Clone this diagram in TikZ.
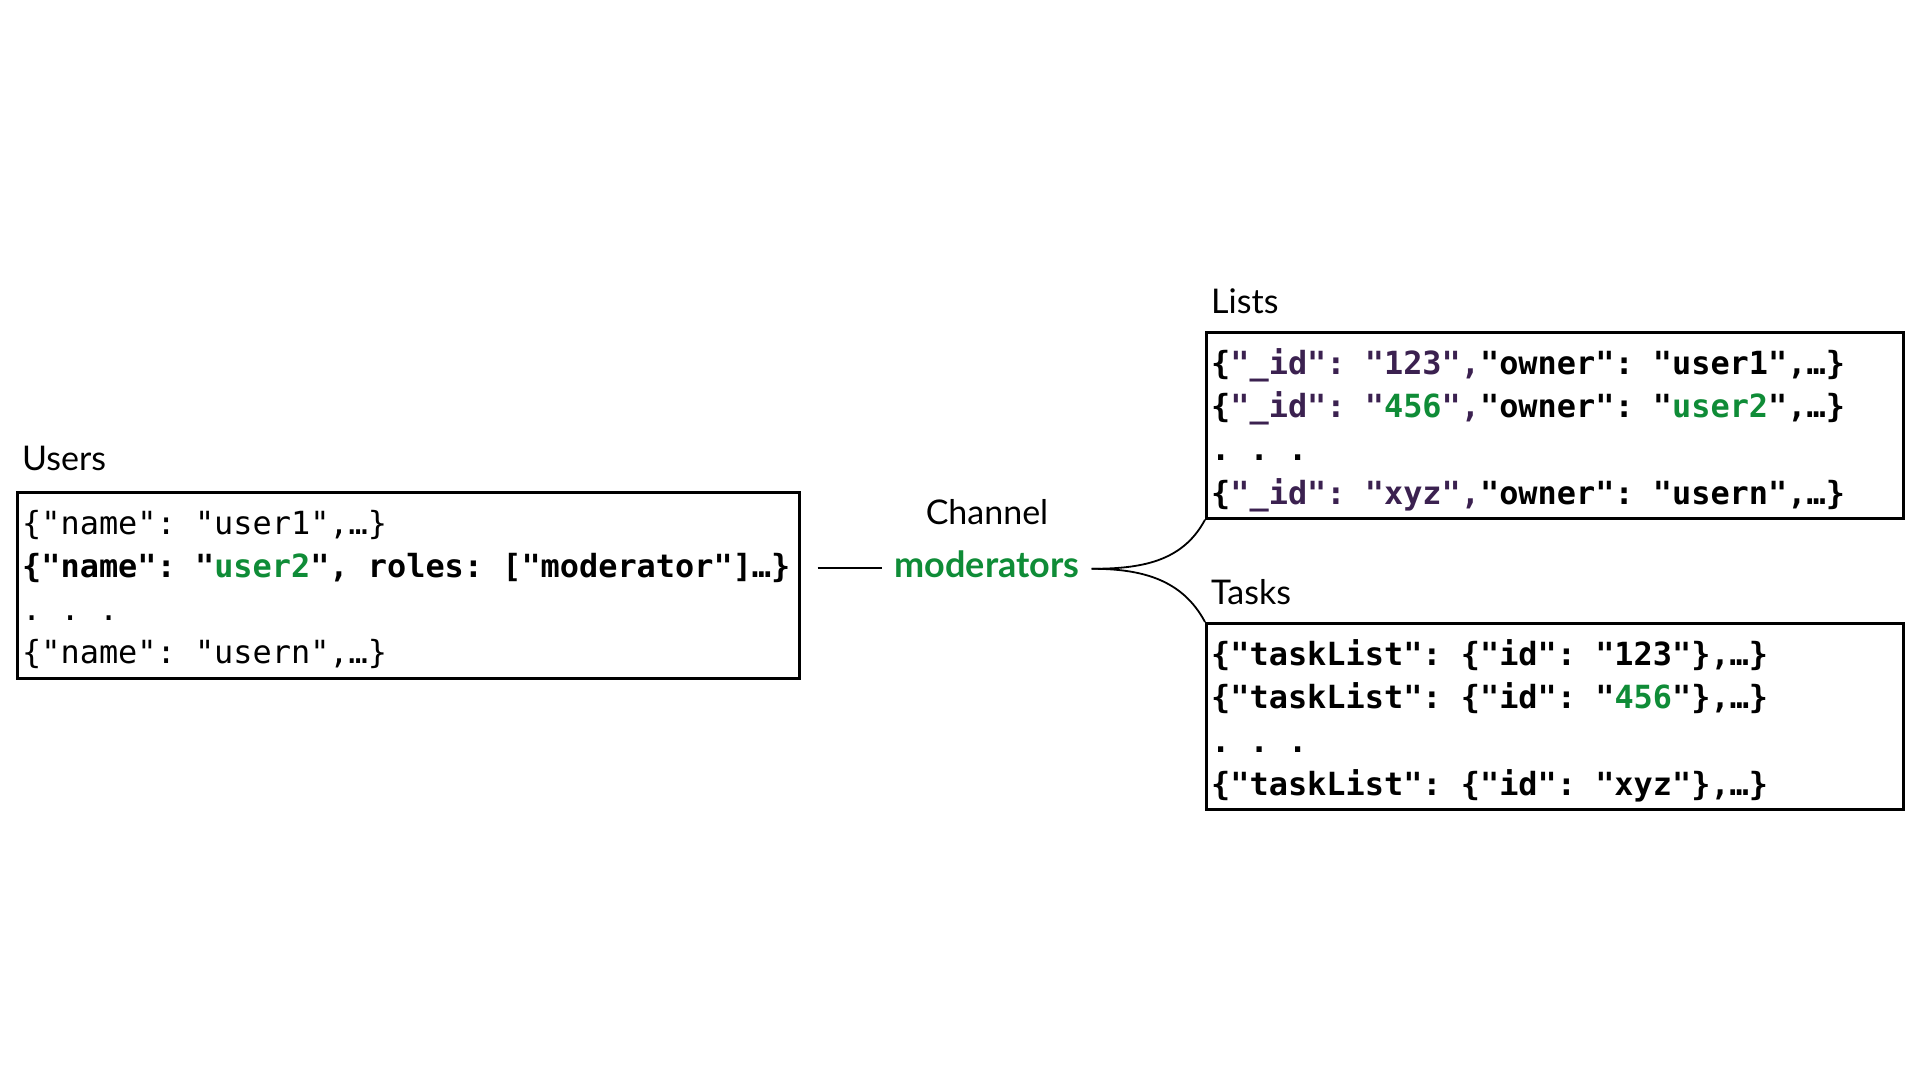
\documentclass[tikz,border=0pt]{standalone}
\usepackage{fontspec}
\setmainfont{Lato}
\newfontfamily\codefont{DejaVu Sans Mono}
\usetikzlibrary{calc}
\definecolor{grn}{HTML}{0F8C37}
\definecolor{prp}{HTML}{3B2150}
\tikzset{
  box/.style={draw=black, line width=2.7pt, rectangle, inner sep=0pt, anchor=north west,
              minimum width=#1, minimum height=186pt},
  coderow/.style={anchor=base west, inner sep=0pt, text=black,
              font=\codefont\fontsize{31.9}{38}\selectfont\frenchspacing},
  lbl/.style={inner sep=0pt, text=black, font=\fontsize{34}{40}\selectfont},
  modlbl/.style={inner sep=0pt, text=grn, font=\bfseries\fontsize{36}{42}\selectfont},
  conn/.style={draw=black, line width=1.8pt}
}
\begin{document}
\begin{tikzpicture}[x=1pt,y=-1pt]
\useasboundingbox (0,0) rectangle (1920,1080);
\fill[white] (0,0) rectangle (1920,1080);

% Users
\node[lbl, anchor=base west] (usersl) at (22,470) {Users};
\node[box=782pt] (users) at (16,491) {};
\node[coderow] (u1) at (22,534) {\{"name": "user1",…\}};
\node[coderow] (u2) at (22,577) {\textbf{\{"name": "\textcolor{grn}{user2}", roles: ["moderator"]…\}}};
\node[coderow] (u3) at (22,620) {. . .};
\node[coderow] (u4) at (22,663) {\{"name": "usern",…\}};

% Lists
\node[lbl, anchor=base west] (listsl) at (1211,313) {Lists};
\node[box=697pt] (lists) at (1205,331) {};
\node[coderow] (l1) at (1211,374) {\textbf{\{\textcolor{prp}{"\_id": "123",}"owner": "user1",…\}}};
\node[coderow] (l2) at (1211,417) {\textbf{\{\textcolor{prp}{"\_id": "}\textcolor{grn}{456}\textcolor{prp}{",}"owner": "\textcolor{grn}{user2}",…\}}};
\node[coderow] (l3) at (1211,460) {\textbf{. . .}};
\node[coderow] (l4) at (1211,504) {\textbf{\{\textcolor{prp}{"\_id": "xyz",}"owner": "usern",…\}}};

% Tasks
\node[lbl, anchor=base west] (tasksl) at (1211,604) {Tasks};
\node[box=697pt] (tasks) at (1205,622) {};
\node[coderow] (t1) at (1211,665) {\textbf{\{"taskList": \{"id": "123"\},…\}}};
\node[coderow] (t2) at (1211,708) {\textbf{\{"taskList": \{"id": "\textcolor{grn}{456}"\},…\}}};
\node[coderow] (t3) at (1211,752) {\textbf{. . .}};
\node[coderow] (t4) at (1211,795) {\textbf{\{"taskList": \{"id": "xyz"\},…\}}};

% Channel
\node[lbl, anchor=base] (chan) at (987,524) {Channel};
\node[modlbl, anchor=base] (mod) at (987,577) {moderators};

\coordinate (mL) at ([xshift=-12pt,yshift=-4pt]mod.west);
\coordinate (mR) at ([xshift=12pt,yshift=-5pt]mod.east);
\draw[conn, shorten <=17pt] (users.east |- mL) -- (mL);
\draw[conn] (mR) to[out=0,in=-118] (lists.south west);
\draw[conn] (mR) to[out=0,in=118] (tasks.north west);
\end{tikzpicture}
\end{document}
